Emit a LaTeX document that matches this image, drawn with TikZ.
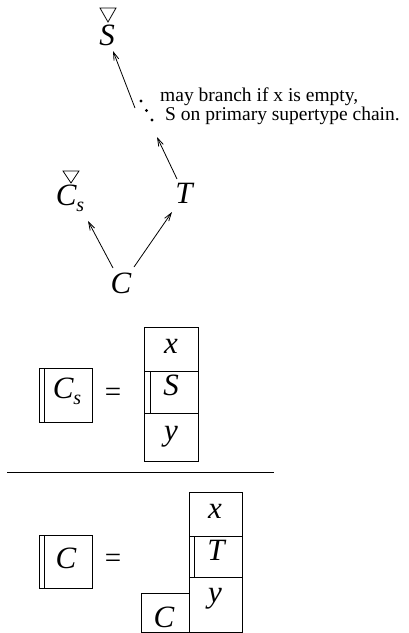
\documentclass[tikz,border=0pt]{standalone}
\usepackage{fontspec}
\setmainfont{Liberation Serif}
\usetikzlibrary{arrows.meta}
\newcommand{\subs}{\raisebox{-6pt}{\fontsize{20}{20}\selectfont\itshape s}}
\begin{document}
\begin{tikzpicture}[x=1pt,y=1pt,
  big/.style={font=\fontsize{31}{33}\selectfont\itshape, inner sep=0pt, anchor=base},
  note/.style={font=\fontsize{19.5}{21}\selectfont, inner sep=0pt, anchor=base west},
  arr/.style={-{Straight Barb[length=8pt,width=5pt]}, line width=0.8pt},
  dotn/.style={circle, fill, inner sep=0pt, minimum size=3.2pt},
  tri/.style={line width=0.8pt},
  box/.style={draw, line width=0.9pt, inner sep=0pt, anchor=north west},
  sym/.style={font=\fontsize{29}{31}\selectfont, inner sep=0pt}
]
\useasboundingbox (0,0) rectangle (409,-633);

% ---------- upper graph ----------
\node[big] (S) at (107,-45) {S};
\draw[tri] ([shift={(-7,37)}]S.base) -- ([shift={(9,37)}]S.base) -- ([shift={(1,23)}]S.base) -- cycle;

\node[dotn] (d1) at (141,-101) {};
\node[dotn] (d2) at (146.5,-110.5) {};
\node[dotn] (d3) at (152,-120) {};
\node[note] (n1) at (160,-101) {may branch if x is empty,};
\node[note] (n2) at (165,-120) {S on primary supertype chain.};

\node[big] (T) at (184,-203) {T};
\node[big] (Cs) at (70,-205) {C\subs};
\draw[tri] ([shift={(-7,34)}]Cs.base) -- ([shift={(9,34)}]Cs.base) -- ([shift={(1,22)}]Cs.base) -- cycle;
\node[big] (C) at (121,-293) {C};

\draw[arr] ([shift={(-6,-7)}]d1.center) -- ([shift={(6,-6)}]S.base);
\draw[arr] ([shift={(-7,24)}]T.base) -- ([shift={(5,-17)}]d3.center);
\draw[arr] ([shift={(-8,25)}]C.base) -- ([shift={(18,-16)}]Cs.base);
\draw[arr] ([shift={(13,26)}]C.base) -- ([shift={(-12,-9)}]T.base);

% ---------- first equation ----------
\node[box, minimum width=53pt, minimum height=54pt] (L1) at (39,-368) {};
\draw[line width=0.9pt] ([xshift=5pt]L1.north west) -- ([xshift=5pt]L1.south west);
\node[big] (L1t) at (67,-398) {C\subs};
\node[sym] (eq1) at (113,-395) {=};
\node[box, minimum width=54pt, minimum height=44pt] (X1) at (144,-327) {};
\node[box, minimum width=54pt, minimum height=42pt] (S1) at (144,-371) {};
\node[box, minimum width=54pt, minimum height=48pt] (Y1) at (144,-413) {};
\draw[line width=0.9pt] ([xshift=6pt]S1.north west) -- ([xshift=6pt]S1.south west);
\node[big] (X1t) at (171,-353) {x};
\node[big] (S1t) at (171,-395) {S};
\node[big] (Y1t) at (171,-440) {y};

% ---------- separator ----------
\coordinate (sepL) at (7,-472);
\coordinate (sepR) at (274,-472);
\draw[line width=0.9pt] (sepL) -- (sepR);

% ---------- second equation ----------
\node[box, minimum width=53pt, minimum height=53pt] (L2) at (39,-535) {};
\draw[line width=0.9pt] ([xshift=5pt]L2.north west) -- ([xshift=5pt]L2.south west);
\node[big] (L2t) at (66,-568) {C};
\node[sym] (eq2) at (113,-561) {=};
\node[box, minimum width=53pt, minimum height=44pt] (X2) at (189,-492) {};
\node[box, minimum width=53pt, minimum height=41pt] (T2) at (189,-536) {};
\node[box, minimum width=53pt, minimum height=55pt] (Y2) at (189,-577) {};
\draw[line width=0.9pt] ([xshift=5pt]T2.north west) -- ([xshift=5pt]T2.south west);
\node[box, minimum width=48pt, minimum height=39pt] (C2) at (141,-593) {};
\node[big] (X2t) at (215,-518) {x};
\node[big] (T2t) at (216,-560) {T};
\node[big] (Y2t) at (215,-602) {y};
\node[big] (C2t) at (164,-627) {C};
\end{tikzpicture}
\end{document}
